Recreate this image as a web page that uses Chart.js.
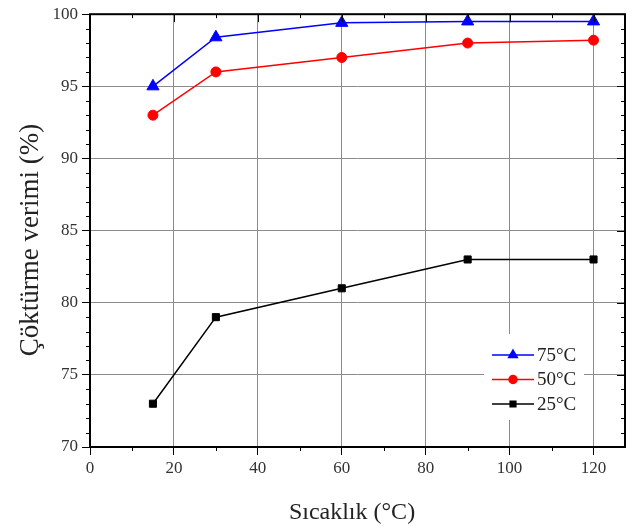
<!DOCTYPE html>
<html>
<head>
<meta charset="utf-8">
<script src="https://cdn.jsdelivr.net/npm/chart.js@4/dist/chart.umd.min.js"></script>
<style>
  html, body { margin: 0; padding: 0; background: #fff; }
  #wrap { width: 636px; height: 528px; }
</style>
</head>
<body>
<div id="wrap"><canvas id="chart"></canvas></div>
<script>
// data
const temps = [15, 30, 60, 90, 120];
const eff75 = [95, 98.4, 99.4, 99.5, 99.5];
const eff50 = [93, 96, 97, 98, 98.2];
const eff25 = [73, 79, 81, 83, 83];
const seriesLabels = ['75°C', '50°C', '25°C'];
const xTitle = 'Sıcaklık (°C)';
const yTitle = 'Çöktürme verimi (%)';
const xTicks = [0, 20, 40, 60, 80, 100, 120];
const yTicks = [70, 75, 80, 85, 90, 95, 100];
const xMinor = [10, 30, 50, 70, 90, 110];
const yMinor = [71, 72, 73, 74, 76, 77, 78, 79, 81, 82, 83, 84, 86, 87, 88, 89, 91, 92, 93, 94, 96, 97, 98, 99];

const FONT = "'Liberation Serif', 'Times New Roman', serif";

const toPoints = (ys) => temps.map((t, i) => ({ x: t, y: ys[i] }));

const datasets = [
  { label: seriesLabels[0], data: toPoints(eff75), borderColor: '#0000ff', backgroundColor: '#0000ff', pointStyle: 'triangle', pointRadius: 7 },
  { label: seriesLabels[1], data: toPoints(eff50), borderColor: '#ff0000', backgroundColor: '#ff0000', pointStyle: 'circle', pointRadius: 5 },
  { label: seriesLabels[2], data: toPoints(eff25), borderColor: '#000000', backgroundColor: '#000000', pointStyle: 'rect', pointRadius: 5 },
].map(d => Object.assign(d, { borderWidth: 1.5, pointBorderWidth: 1, tension: 0, fill: false }));

// frame, minor ticks, mirrored ticks, axis titles and the inset legend
const framePlugin = {
  id: 'frame',
  afterDraw(chart) {
    const { ctx, chartArea: a, scales: { x, y } } = chart;
    ctx.save();

    // legend box
    ctx.fillStyle = '#fff';
    ctx.fillRect(484, 334, 100, 86);
    const legendRadius = [5, 4, 4];
    chart.data.datasets.forEach((ds, i) => {
      const cy = 355 + i * 24.5;
      ctx.strokeStyle = ds.borderColor;
      ctx.lineWidth = 1.5;
      ctx.beginPath();
      ctx.moveTo(492, cy);
      ctx.lineTo(534, cy);
      ctx.stroke();
      ctx.fillStyle = ds.backgroundColor;
      Chart.helpers.drawPoint(ctx, { pointStyle: ds.pointStyle, radius: legendRadius[i], borderWidth: 1, rotation: 0 }, 513, cy);
      ctx.fillStyle = '#222';
      ctx.font = '19px ' + FONT;
      ctx.textBaseline = 'middle';
      ctx.textAlign = 'left';
      ctx.fillText(ds.label, 537, cy + 1);
    });

    ctx.strokeStyle = '#000';
    ctx.lineWidth = 1;
    ctx.beginPath();
    // minor ticks, outward on left/bottom, inward on right/top
    xMinor.forEach(v => {
      const px = Math.round(x.getPixelForValue(v)) + 0.5;
      ctx.moveTo(px, a.bottom); ctx.lineTo(px, a.bottom + 4);
      ctx.moveTo(px, a.top); ctx.lineTo(px, a.top + 4);
    });
    yMinor.forEach(v => {
      const py = Math.round(y.getPixelForValue(v)) + 0.5;
      ctx.moveTo(a.left, py); ctx.lineTo(a.left - 4, py);
      ctx.moveTo(a.right, py); ctx.lineTo(a.right - 4, py);
    });
    // major ticks mirrored on top/right
    xTicks.forEach(v => {
      const px = Math.round(x.getPixelForValue(v)) + 0.5;
      ctx.moveTo(px, a.top); ctx.lineTo(px, a.top + 8);
    });
    yTicks.forEach(v => {
      const py = Math.round(y.getPixelForValue(v)) + 0.5;
      ctx.moveTo(a.right, py); ctx.lineTo(a.right - 8, py);
    });
    ctx.stroke();

    ctx.lineWidth = 2;
    ctx.strokeRect(a.left, a.top, a.right - a.left, a.bottom - a.top);

    // axis titles
    ctx.fillStyle = '#222';
    ctx.textAlign = 'center';
    ctx.textBaseline = 'alphabetic';
    ctx.font = '24px ' + FONT;
    ctx.fillText(xTitle, 352, 519);
    ctx.translate(38, 240);
    ctx.rotate(-Math.PI / 2);
    ctx.font = '27px ' + FONT;
    ctx.fillText(yTitle, 0, 0);
    ctx.restore();
  }
};

new Chart(document.getElementById('chart'), {
  type: 'line',
  data: { datasets },
  plugins: [framePlugin],
  options: {
    responsive: true,
    maintainAspectRatio: false,
    animation: false,
    layout: { padding: { left: 0, top: 14, right: 11, bottom: 0 } },
    plugins: { legend: { display: false }, tooltip: { enabled: false } },
    scales: {
      x: {
        type: 'linear',
        min: 0,
        max: 127.5,
        afterBuildTicks: (s) => { s.ticks = xTicks.map(v => ({ value: v })); },
        afterFit: (s) => { s.height = 81; },
        border: { display: false },
        grid: { color: '#8c8c8c', lineWidth: 1, tickLength: 8, tickColor: '#000' },
        ticks: { padding: 3, color: '#333', font: { family: FONT, size: 17 }, maxRotation: 0 }
      },
      y: {
        min: 70,
        max: 100,
        afterBuildTicks: (s) => { s.ticks = yTicks.map(v => ({ value: v })); },
        afterFit: (s) => { s.width = 90; },
        border: { display: false },
        grid: { color: '#8c8c8c', lineWidth: 1, tickLength: 8, tickColor: '#000' },
        ticks: { padding: 4, color: '#333', font: { family: FONT, size: 17 } }
      }
    }
  }
});
</script>
</body>
</html>
